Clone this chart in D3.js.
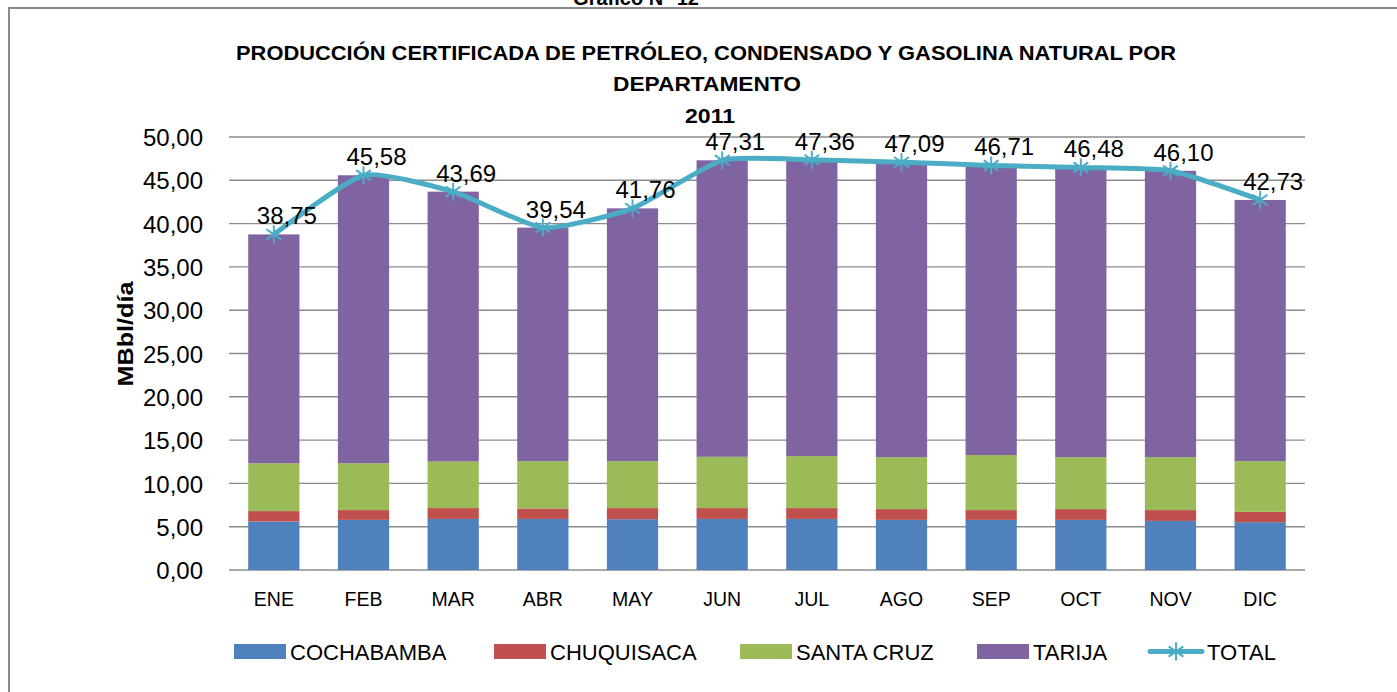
<!DOCTYPE html>
<html><head><meta charset="utf-8">
<script src="https://cdn.jsdelivr.net/npm/d3@7"></script>
<style>html,body{margin:0;padding:0;background:#fff;overflow:hidden}svg{display:block}text{font-family:"Liberation Sans",Arial,sans-serif;fill:#000}</style>
</head><body>
<svg id="c" width="1397" height="692"></svg>
<script>
const months = ["ENE","FEB","MAR","ABR","MAY","JUN","JUL","AGO","SEP","OCT","NOV","DIC"];
const cochabamba = [5.60,5.79,5.90,5.90,5.87,5.90,5.90,5.79,5.79,5.79,5.67,5.52];
const chuquisaca = [1.20,1.13,1.25,1.20,1.28,1.25,1.25,1.24,1.13,1.24,1.25,1.20];
const santaCruz  = [5.53,5.41,5.38,5.47,5.42,5.92,6.00,6.00,6.35,6.00,6.11,5.85];
const tarija     = [26.42,33.25,31.16,26.97,29.19,34.24,34.21,34.06,33.44,33.45,33.07,30.16];
const total      = [38.75,45.58,43.69,39.54,41.76,47.31,47.36,47.09,46.71,46.48,46.10,42.73];
const yTicks = [0,5,10,15,20,25,30,35,40,45,50];
const seriesNames = ["COCHABAMBA","CHUQUISACA","SANTA CRUZ","TARIJA"];
const seriesColors = ["#4F81BD","#C0504D","#9BBB59","#8064A2"];
const lineColor = "#4BACC6";

const svg = d3.select("#c");
const fmt = v => v.toFixed(2).replace(".", ",");

// frame
svg.append("rect").attr("x",9).attr("y",8).attr("width",1400).attr("height",700)
  .attr("fill","none").attr("stroke","#8a8a8a").attr("stroke-width",2);

// partially visible caption above frame (cut off at the top, as in the source)
svg.append("text").attr("x",636).attr("y",5).attr("text-anchor","middle")
  .attr("font-size",20).attr("font-weight","bold").text("Gráfico N° 12");

// titles
svg.append("text").attr("x",706).attr("y",60).attr("text-anchor","middle")
  .attr("font-size",20).attr("font-weight","bold")
  .attr("textLength",940).attr("lengthAdjust","spacingAndGlyphs")
  .text("PRODUCCIÓN CERTIFICADA DE PETRÓLEO, CONDENSADO Y GASOLINA NATURAL POR");
svg.append("text").attr("x",707).attr("y",91).attr("text-anchor","middle")
  .attr("font-size",20).attr("font-weight","bold")
  .attr("textLength",188).attr("lengthAdjust","spacingAndGlyphs").text("DEPARTAMENTO");
svg.append("text").attr("x",710).attr("y",123).attr("text-anchor","middle")
  .attr("font-size",21).attr("font-weight","bold")
  .attr("textLength",50).attr("lengthAdjust","spacingAndGlyphs").text("2011");

const x = d3.scaleBand().domain(months).range([229,1305]).paddingInner(0.4286).paddingOuter(0.2143);
const y = d3.scaleLinear().domain([0,50]).range([570,137]);

// gridlines
svg.append("g").selectAll("line").data(yTicks).join("line")
  .attr("x1",229).attr("x2",1305).attr("y1",d=>y(d)).attr("y2",d=>y(d))
  .attr("stroke","#8c8c8c").attr("stroke-width",1.4);

// y axis labels
const yAxis = d3.axisLeft(y).tickValues(yTicks).tickFormat(fmt).tickSize(0).tickPadding(0);
const yg = svg.append("g").attr("transform","translate(203,0)").call(yAxis);
yg.select(".domain").remove();
yg.selectAll("text").attr("font-size",24).attr("fill","#000").attr("dy","0.36em")
  .style("font-family",'"Liberation Sans",Arial,sans-serif');

svg.append("text").attr("transform","translate(133,334) rotate(-90)")
  .attr("text-anchor","middle").attr("font-size",22).attr("font-weight","bold")
  .attr("textLength",105).attr("lengthAdjust","spacingAndGlyphs").text("MBbl/día");

// x axis labels
const xAxis = d3.axisBottom(x).tickSize(0).tickPadding(0);
const xg = svg.append("g").attr("transform","translate(0,592)").call(xAxis);
xg.select(".domain").remove();
xg.selectAll("text").attr("font-size",19.5).attr("fill","#000").attr("dy","0.71em")
  .style("font-family",'"Liberation Sans",Arial,sans-serif');

// stacked bars
const rows = months.map((m,i)=>({m, c0:cochabamba[i], c1:chuquisaca[i], c2:santaCruz[i], c3:tarija[i]}));
const stack = d3.stack().keys(["c0","c1","c2","c3"])(rows);
svg.append("g").selectAll("g").data(stack).join("g")
  .attr("fill",(d,i)=>seriesColors[i])
  .selectAll("rect").data(d=>d).join("rect")
  .attr("x",d=>x(d.data.m)).attr("width",x.bandwidth())
  .attr("y",d=>y(d[1])).attr("height",d=>y(d[0])-y(d[1]));

// total line
const cx = i => x(months[i]) + x.bandwidth()/2;
const line = d3.line().x((d,i)=>cx(i)).y(d=>y(d)).curve(d3.curveCardinal.tension(0.45));
svg.append("path").datum(total).attr("d",line).attr("fill","none")
  .attr("stroke",lineColor).attr("stroke-width",5).attr("stroke-linejoin","round");

function star(g, px, py, r){
  const a = Math.PI/180*55;
  const segs = [[0,-r,0,r],[-r*Math.sin(a),-r*Math.cos(a),r*Math.sin(a),r*Math.cos(a)],[r*Math.sin(a),-r*Math.cos(a),-r*Math.sin(a),r*Math.cos(a)]];
  segs.forEach(s=>g.append("line").attr("x1",px+s[0]).attr("y1",py+s[1]).attr("x2",px+s[2]).attr("y2",py+s[3])
    .attr("stroke",lineColor).attr("stroke-width",2));
}
const mk = svg.append("g");
total.forEach((v,i)=>star(mk, cx(i), y(v), 9));

// data labels
svg.append("g").selectAll("text").data(total).join("text")
  .attr("x",(d,i)=>cx(i)+13).attr("y",d=>y(d)-10).attr("text-anchor","middle")
  .attr("font-size",24).text(fmt);

// legend
const leg = svg.append("g");
const legX = [234,494,740,977];
seriesNames.forEach((n,i)=>{
  leg.append("rect").attr("x",legX[i]).attr("y",644).attr("width",52).attr("height",15).attr("fill",seriesColors[i]);
  leg.append("text").attr("x",legX[i]+56).attr("y",659.5).attr("font-size",22).text(n);
});
leg.append("line").attr("x1",1150).attr("x2",1202).attr("y1",651.5).attr("y2",651.5)
  .attr("stroke",lineColor).attr("stroke-width",5).attr("stroke-linecap","round");
star(leg, 1176, 651.5, 9);
leg.append("text").attr("x",1207).attr("y",659.5).attr("font-size",22).text("TOTAL");
</script>
</body></html>
